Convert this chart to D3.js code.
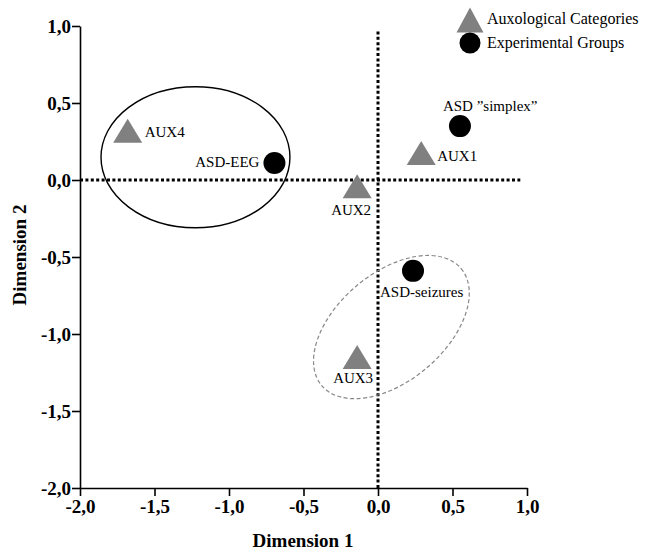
<!DOCTYPE html>
<html>
<head>
<meta charset="utf-8">
<script src="https://cdn.jsdelivr.net/npm/d3@7"></script>
<style>
  html, body { margin: 0; padding: 0; background: #fff; }
  svg { display: block; }
  text { font-family: "Liberation Serif", "Times New Roman", serif; }
</style>
</head>
<body>
<svg id="chart" width="645" height="551"></svg>
<script>
// ---- data ----
const auxNames = ["AUX1", "AUX2", "AUX3", "AUX4"];
const auxDim1 = [0.29, -0.14, -0.14, -1.68];
const auxDim2 = [0.175, -0.04, -1.15, 0.32];

const groupNames = ["ASD \u201Dsimplex\u201D", "ASD-EEG", "ASD-seizures"];
const groupDim1 = [0.55, -0.695, 0.235];
const groupDim2 = [0.35, 0.11, -0.59];

const xTicks = [-2.0, -1.5, -1.0, -0.5, 0.0, 0.5, 1.0];
const yTicks = [-2.0, -1.5, -1.0, -0.5, 0.0, 0.5, 1.0];

const legendLabels = ["Auxological Categories", "Experimental Groups"];

// ---- layout ----
const svg = d3.select("#chart");
const x = d3.scaleLinear().domain([-2, 1]).range([80, 527]);
const y = d3.scaleLinear().domain([-2, 1]).range([488, 26]);
const fmt = v => d3.format(".1f")(v).replace(".", ",").replace("−", "-");

// reference dotted lines
svg.append("line")
  .attr("x1", x(-2)).attr("x2", x(0.955))
  .attr("y1", y(0)).attr("y2", y(0))
  .attr("stroke", "#000").attr("stroke-width", 3)
  .attr("stroke-dasharray", "3,2.4");
svg.append("line")
  .attr("x1", x(0)).attr("x2", x(0))
  .attr("y1", y(-2)).attr("y2", y(0.975))
  .attr("stroke", "#000").attr("stroke-width", 3)
  .attr("stroke-dasharray", "3,2.4");

// ellipses
svg.append("ellipse")
  .attr("cx", x(-1.225)).attr("cy", y(0.148))
  .attr("rx", x(-1.225 + 0.634) - x(-1.225))
  .attr("ry", y(0) - y(0.458))
  .attr("fill", "none").attr("stroke", "#000").attr("stroke-width", 1.4);

svg.append("ellipse")
  .attr("transform", `translate(${x(0.09)},${y(-0.955)}) rotate(-40)`)
  .attr("rx", 91).attr("ry", 54)
  .attr("fill", "none").attr("stroke", "#888").attr("stroke-width", 1.2)
  .attr("stroke-dasharray", "4,2.5");

// axes
const axL = svg.append("g").attr("transform", `translate(${x(-2)},0)`)
  .call(d3.axisLeft(y).tickValues(yTicks).tickFormat(fmt).tickSize(8).tickSizeOuter(0).tickPadding(1));
const axB = svg.append("g").attr("transform", `translate(0,${y(-2)})`)
  .call(d3.axisBottom(x).tickValues(xTicks).tickFormat(fmt).tickSize(8).tickSizeOuter(0).tickPadding(4));
[axL, axB].forEach(a => {
  a.selectAll("path, line").attr("stroke", "#000").attr("stroke-width", 1.6);
  a.selectAll("text")
    .attr("font-family", "'Liberation Serif', serif")
    .attr("font-size", 19).attr("font-weight", "bold").attr("fill", "#000");
});

// axis titles
svg.append("text")
  .attr("x", 303).attr("y", 547)
  .attr("text-anchor", "middle")
  .attr("font-size", 19).attr("font-weight", "bold")
  .text("Dimension 1");
svg.append("text")
  .attr("transform", "translate(26,255) rotate(-90)")
  .attr("text-anchor", "middle")
  .attr("font-size", 19).attr("font-weight", "bold")
  .text("Dimension 2");

// markers
function triPath(cx, cy, w, h) {
  const p = d3.path();
  p.moveTo(cx, cy - h / 2);
  p.lineTo(cx + w / 2, cy + h / 2);
  p.lineTo(cx - w / 2, cy + h / 2);
  p.closePath();
  return p.toString();
}

const aux = auxNames.map((n, i) => ({ name: n, d1: auxDim1[i], d2: auxDim2[i] }));
const grp = groupNames.map((n, i) => ({ name: n, d1: groupDim1[i], d2: groupDim2[i] }));

svg.selectAll("path.aux").data(aux).enter().append("path")
  .attr("class", "aux")
  .attr("d", d => triPath(x(d.d1), y(d.d2), 29, 24))
  .attr("fill", "#808080");

svg.selectAll("circle.grp").data(grp).enter().append("circle")
  .attr("class", "grp")
  .attr("cx", d => x(d.d1)).attr("cy", d => y(d.d2))
  .attr("r", 11).attr("fill", "#000");

// point labels (offsets in px relative to marker)
const labelOffsets = {
  "AUX1": [16, 8, "start"],
  "AUX2": [-6, 29, "middle"],
  "AUX3": [-4, 26, "middle"],
  "AUX4": [17, 6, "start"],
  "ASD \u201Dsimplex\u201D": [-17, -15, "start"],
  "ASD-EEG": [-15, 4, "end"],
  "ASD-seizures": [-33, 26, "start"]
};
svg.selectAll("text.lbl").data(aux.concat(grp)).enter().append("text")
  .attr("class", "lbl")
  .attr("x", d => x(d.d1) + labelOffsets[d.name][0])
  .attr("y", d => y(d.d2) + labelOffsets[d.name][1])
  .attr("text-anchor", d => labelOffsets[d.name][2])
  .attr("font-size", 15).attr("fill", "#000")
  .text(d => d.name);

// legend
const lg = svg.append("g");
lg.append("path").attr("d", triPath(470, 20, 27, 25)).attr("fill", "#808080");
lg.append("circle").attr("cx", 470).attr("cy", 43).attr("r", 10.5).attr("fill", "#000");
lg.selectAll("text").data(legendLabels).enter().append("text")
  .attr("x", 487).attr("y", (d, i) => 24 + i * 24)
  .attr("font-size", 16).attr("fill", "#000")
  .text(d => d);
</script>
</body>
</html>
